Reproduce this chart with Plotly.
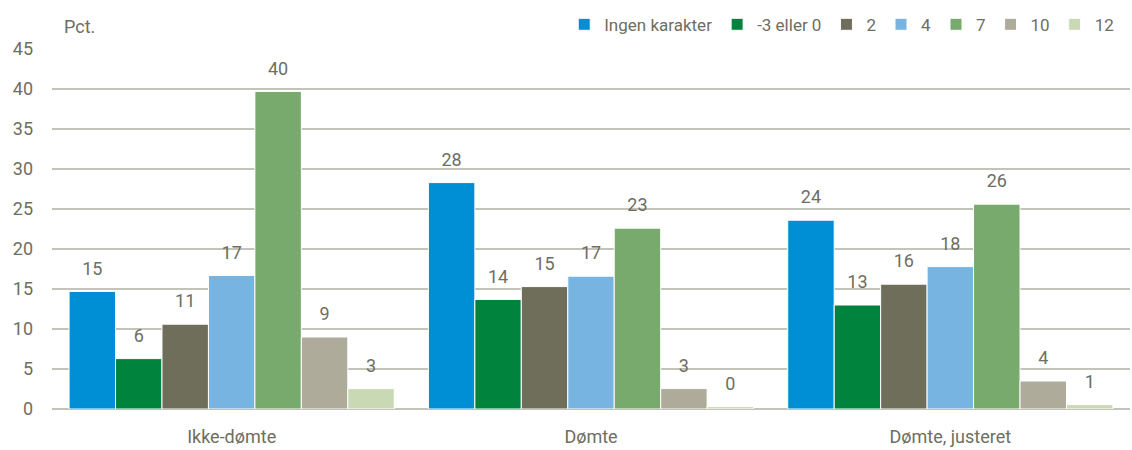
import plotly.graph_objects as go

categories = ["Ikke-dømte", "Dømte", "Dømte, justeret"]
series_names = ["Ingen karakter", "-3 eller 0", "2", "4", "7", "10", "12"]
ingen = [14.7, 28.3, 23.6]
minus3 = [6.3, 13.7, 13.0]
g2 = [10.6, 15.3, 15.6]
g4 = [16.7, 16.6, 17.8]
g7 = [39.7, 22.6, 25.6]
g10 = [9.0, 2.55, 3.5]
g12 = [2.55, 0.3, 0.55]
values = [ingen, minus3, g2, g4, g7, g10, g12]
colors = ["#008FD5", "#00843D", "#6E6E5A", "#78B4E2", "#78AA6E", "#AFAB9B", "#C8D9B4"]

font_family = "Roboto, sans-serif"
text_color = "#6E6E5F"
fs = 18

fig = go.Figure()
for i, (name, vals, col) in enumerate(zip(series_names, values, colors)):
    fig.add_trace(go.Bar(
        name=name, x=categories, y=vals, offsetgroup=str(i), alignmentgroup="a",
        marker=dict(color=col, line=dict(color="white", width=1)),
    ))
for i, (name, vals) in enumerate(zip(series_names, values)):
    fig.add_trace(go.Scatter(
        x=categories, y=vals, offsetgroup=str(i), alignmentgroup="a",
        mode="markers+text", text=[f"{v + 0.001:.0f}" for v in vals],
        textposition="top center",
        marker=dict(size=18, color="rgba(0,0,0,0)"),
        textfont=dict(size=fs, color=text_color, family=font_family),
        showlegend=False, hoverinfo="skip", cliponaxis=False,
    ))

fig.update_layout(
    width=1132, height=450,
    barmode="group", bargap=0.095, bargroupgap=0.0,
    scattermode="group", scattergap=0.095,
    plot_bgcolor="white", paper_bgcolor="white",
    margin=dict(l=52, r=2, t=49, b=41, autoexpand=False),
    font=dict(family=font_family, size=fs, color=text_color),
    legend=dict(orientation="h", x=0.99, xanchor="right", yref="container", y=0.945,
                yanchor="middle", font=dict(size=17, color=text_color), itemwidth=30,
                traceorder="normal"),
    showlegend=True,
)
fig.update_yaxes(range=[0, 45], dtick=5, showgrid=True, gridcolor="#C4C3BA", gridwidth=1.5,
                 zeroline=True, zerolinecolor="#C4C3BA", zerolinewidth=1.5,
                 tickfont=dict(size=fs, color=text_color), ticks="",
                 ticklabelstandoff=18)
fig.update_xaxes(tickfont=dict(size=fs, color=text_color), showline=False, ticks="",
                 ticklabelstandoff=15)
fig.add_annotation(text="Pct.", xref="paper", yref="paper", x=0.009, y=1.0, yshift=10,
                   xanchor="left", yanchor="bottom", showarrow=False,
                   font=dict(size=fs, color=text_color, family=font_family))

fig.write_html("out.html", config={"displayModeBar": False},
               post_script="document.body.style.margin='0';")
